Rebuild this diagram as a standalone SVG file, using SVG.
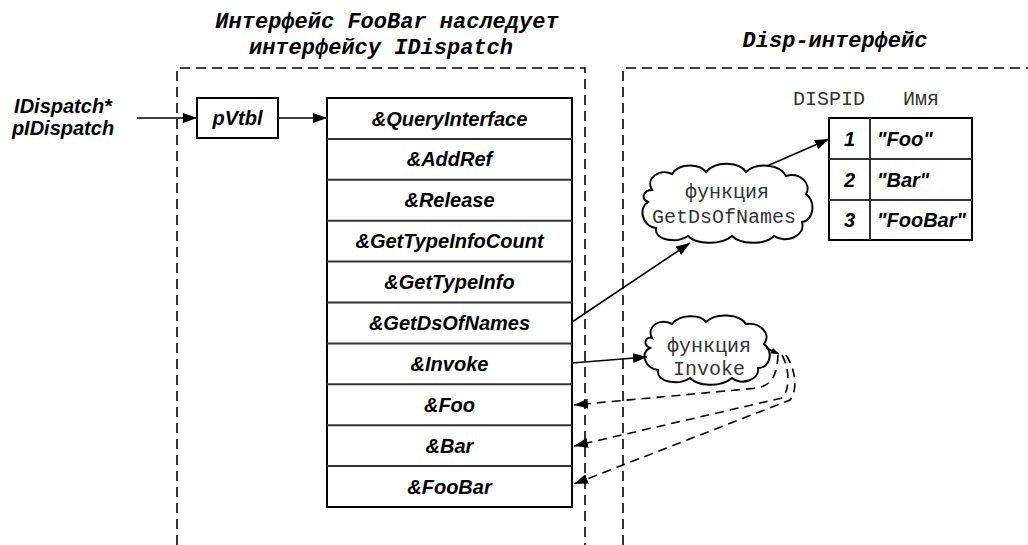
<svg xmlns="http://www.w3.org/2000/svg" width="1028" height="545" viewBox="0 0 1028 545">
<defs>
<marker id="arr" viewBox="0 0 14 10" refX="14" refY="5" markerWidth="14" markerHeight="10" markerUnits="userSpaceOnUse" orient="auto"><path d="M0,0 L14,5 L0,10 Z" fill="#000"/></marker>
<marker id="arrs" viewBox="0 0 8 6" refX="8" refY="3" markerWidth="8" markerHeight="6" markerUnits="userSpaceOnUse" orient="auto"><path d="M0,0 L8,3 L0,6 Z" fill="#000"/></marker>
<style>
.title{font-family:"Liberation Mono","Courier New",monospace;font-weight:bold;font-style:italic;font-size:22px;fill:#000}
.mono{font-family:"Liberation Mono","Courier New",monospace;font-size:20px;fill:#333}
.lbl{font-family:"Liberation Sans",Arial,sans-serif;font-weight:bold;font-style:italic;font-size:20px;fill:#000}
.box{fill:#fff;stroke:#000;stroke-width:2}
.sep{stroke:#333;stroke-width:2}
.frame{fill:none;stroke:#000;stroke-width:1.6;stroke-dasharray:10 6}
.conn{fill:none;stroke:#000;stroke-width:1.6}
.dconn{fill:none;stroke:#000;stroke-width:1.6;stroke-dasharray:9 6}
.cloud{fill:#fff;stroke:#000;stroke-width:2}
</style>
</defs>
<rect width="1028" height="545" fill="#fff"/>

<g id="titles">
<text class="title" x="387" y="28" text-anchor="middle">Интерфейс FooBar наследует</text>
<text class="title" x="381" y="54" text-anchor="middle">интерфейсу IDispatch</text>
<text class="title" x="835" y="47" text-anchor="middle">Disp-интерфейс</text>
</g>

<g id="frames">
<path class="frame" d="M177,545 L177,68 L585,68 L585,545"/>
<path class="frame" d="M623,545 L623,68 L1028,68"/>
</g>

<g id="pIDispatch">
<text class="lbl" x="63" y="113" text-anchor="middle">IDispatch*</text>
<text class="lbl" x="63" y="135" text-anchor="middle">pIDispatch</text>
</g>

<g id="pVtbl">
<rect class="box" x="197" y="98" width="81" height="40"/>
<text class="lbl" x="237.5" y="125" text-anchor="middle">pVtbl</text>
</g>

<g id="vtable">
<rect class="box" x="327" y="98" width="245" height="409"/>
<line class="sep" x1="327" y1="138.9" x2="572" y2="138.9"/>
<line class="sep" x1="327" y1="179.8" x2="572" y2="179.8"/>
<line class="sep" x1="327" y1="220.7" x2="572" y2="220.7"/>
<line class="sep" x1="327" y1="261.6" x2="572" y2="261.6"/>
<line class="sep" x1="327" y1="302.5" x2="572" y2="302.5"/>
<line class="sep" x1="327" y1="343.4" x2="572" y2="343.4"/>
<line class="sep" x1="327" y1="384.3" x2="572" y2="384.3"/>
<line class="sep" x1="327" y1="425.2" x2="572" y2="425.2"/>
<line class="sep" x1="327" y1="466.1" x2="572" y2="466.1"/>
<text class="lbl" x="449.5" y="125.5" text-anchor="middle">&amp;QueryInterface</text>
<text class="lbl" x="449.5" y="166.4" text-anchor="middle">&amp;AddRef</text>
<text class="lbl" x="449.5" y="207.3" text-anchor="middle">&amp;Release</text>
<text class="lbl" x="449.5" y="248.2" text-anchor="middle">&amp;GetTypeInfoCount</text>
<text class="lbl" x="449.5" y="289.1" text-anchor="middle">&amp;GetTypeInfo</text>
<text class="lbl" x="449.5" y="330" text-anchor="middle">&amp;GetDsOfNames</text>
<text class="lbl" x="449.5" y="370.9" text-anchor="middle">&amp;Invoke</text>
<text class="lbl" x="449.5" y="411.8" text-anchor="middle">&amp;Foo</text>
<text class="lbl" x="449.5" y="452.7" text-anchor="middle">&amp;Bar</text>
<text class="lbl" x="449.5" y="493.6" text-anchor="middle">&amp;FooBar</text>
</g>

<g id="dispTable">
<text class="mono" x="829" y="105" text-anchor="middle">DISPID</text>
<text class="mono" x="921" y="105" text-anchor="middle">Имя</text>
<rect class="box" x="829" y="118" width="143" height="122"/>
<line class="sep" x1="870" y1="118" x2="870" y2="240"/>
<line class="sep" x1="829" y1="159" x2="972" y2="159"/>
<line class="sep" x1="829" y1="200" x2="972" y2="200"/>
<text class="lbl" x="849.5" y="146" text-anchor="middle">1</text>
<text class="lbl" x="849.5" y="187" text-anchor="middle">2</text>
<text class="lbl" x="849.5" y="227" text-anchor="middle">3</text>
<text class="lbl" x="877" y="146">"Foo"</text>
<text class="lbl" x="877" y="187">"Bar"</text>
<text class="lbl" x="877" y="227">"FooBar"</text>
</g>

<g id="cloudGetDsOfNames">
<path class="cloud" d="M652,190 C645,178 660,168 672,174 C680,162 700,164 706,172 C716,160 740,162 746,172 C756,162 780,164 786,176 C800,172 812,184 806,194 C816,202 814,220 802,222 C806,236 786,244 774,236 C764,246 740,244 732,236 C720,246 696,244 688,236 C676,244 654,240 656,228 C642,226 638,208 648,202 C640,198 644,190 652,190 Z"/>
<text class="mono" x="727" y="198" text-anchor="middle">функция</text>
<text class="mono" x="724" y="223" text-anchor="middle">GetDsOfNames</text>
</g>

<g id="cloudInvoke">
<path class="cloud" d="M652,338 C646,326 660,318 672,324 C680,314 700,314 706,322 C716,312 740,314 746,324 C760,322 772,334 764,344 C774,352 770,368 758,368 C760,380 740,386 732,378 C720,388 698,386 690,378 C678,386 656,382 658,370 C644,368 640,352 650,348 C642,344 646,336 652,338 Z"/>
<text class="mono" x="709" y="352" text-anchor="middle">функция</text>
<text class="mono" x="709" y="375" text-anchor="middle">Invoke</text>
</g>

<g id="connectors">
<line class="conn" x1="137" y1="118" x2="197" y2="118" marker-end="url(#arr)"/>
<line class="conn" x1="278" y1="118" x2="327" y2="118" marker-end="url(#arr)"/>
<line class="conn" x1="572" y1="322" x2="690" y2="243" marker-end="url(#arr)"/>
<line class="conn" x1="767" y1="166" x2="829" y2="139" marker-end="url(#arr)"/>
<line class="conn" x1="572" y1="363" x2="647" y2="357" marker-end="url(#arr)"/>
<line class="conn" x1="766" y1="348" x2="779" y2="354" marker-end="url(#arrs)"/>
<path class="dconn" d="M778,355 C777,372 774,384 758,388 L574,405" marker-end="url(#arr)"/>
<path class="dconn" d="M782,355 C790,370 790,390 782,398 L574,446" marker-end="url(#arr)"/>
<path class="dconn" d="M786,355 C797,372 797,392 790,400 L574,484" marker-end="url(#arr)"/>
</g>
</svg>
